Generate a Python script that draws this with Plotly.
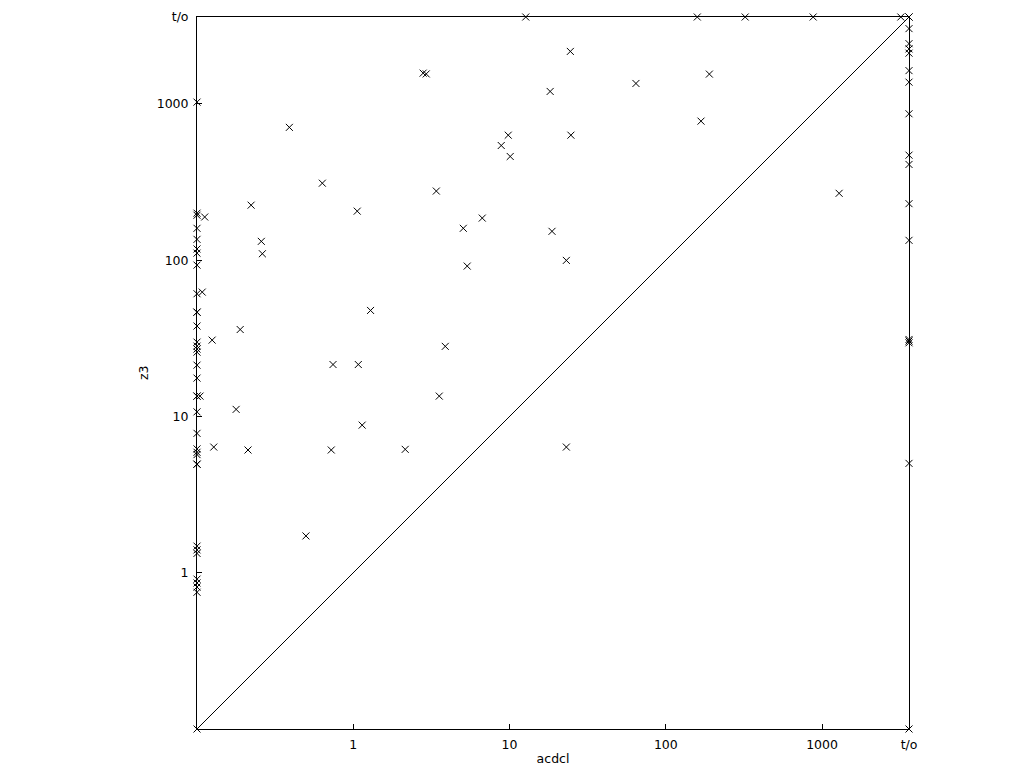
import math
import plotly.graph_objects as go

TIMEOUT = 3600.0
LOW = 0.1

# acdcl runtime (x) and z3 runtime (y); timeouts are plotted at TIMEOUT ("t/o")
acdcl = [
    # acdcl at lower bound
    0.1, 0.1, 0.1, 0.1, 0.1, 0.1, 0.1, 0.1, 0.1, 0.1, 0.1, 0.1,
    0.1, 0.1, 0.1, 0.1, 0.1, 0.1, 0.1, 0.1, 0.1, 0.1, 0.1, 0.1,
    0.1, 0.1, 0.1, 0.1, 0.1, 0.1, 0.1, 0.1, 0.1, 0.1, 0.1,
    # interior
    0.112, 0.108, 0.125, 0.1045, 0.128, 0.178, 0.189, 0.212, 0.222, 0.258,
    0.262, 0.39, 0.498, 0.634, 0.723, 0.742, 1.06, 1.077, 1.14, 1.29,
    2.15, 2.80, 2.93, 3.40, 3.55, 3.88, 5.06, 5.36, 6.69, 8.85,
    9.81, 10.1, 12.7, 18.2, 18.7, 23.1, 23.1, 24.5, 24.7, 64.4,
    159, 168, 190, 322, 877, 1286, 3192,
    # acdcl timeouts
    3600, 3600, 3600, 3600, 3600, 3600, 3600, 3600, 3600, 3600,
    3600, 3600, 3600, 3600, 3600, 3600, 3600, 3600,
]
z3 = [
    1027, 200, 194, 160, 136, 118, 111, 93, 61, 46.5, 46.5, 37.9,
    29.9, 28.2, 27, 25.8, 21.3, 17.6, 13.5, 13.5, 10.7, 7.8, 6.2, 5.9,
    5.7, 4.95, 4.95, 1.48, 1.40, 1.33, 0.91, 0.86, 0.81, 0.75, 0.1,
    189, 62.5, 30.8, 13.5, 6.37, 11.1, 36, 6.1, 225, 132,
    110, 708, 1.72, 311, 6.1, 21.5, 206, 21.5, 8.8, 47.7,
    6.16, 1574, 1556, 277, 13.5, 28.1, 160, 91.7, 186, 542,
    631, 461, 3600, 1202, 153, 99.7, 6.37, 2168, 631, 1352,
    3600, 776, 1552, 3600, 3600, 268, 3600,
    3600, 3600, 3034, 2431, 2249, 2113, 1634, 1378, 865, 470,
    410, 230, 134, 31.1, 30.4, 29.6, 5.01, 0.1,
]

tick_vals = [1, 10, 100, 1000, TIMEOUT]
tick_text = ["1", "10", "100", "1000", "t/o"]

FONT = "DejaVu Sans"
FS = 12.5

fig = go.Figure()
fig.add_trace(go.Scatter(
    x=[LOW, TIMEOUT], y=[LOW, TIMEOUT], mode="lines",
    line=dict(color="black", width=1), hoverinfo="skip", showlegend=False,
    cliponaxis=False,
))
fig.add_trace(go.Scatter(
    x=acdcl, y=z3, mode="markers",
    marker=dict(symbol="x-thin", size=7, color="black",
                line=dict(color="black", width=1)),
    showlegend=False, cliponaxis=False,
))

rng = [math.log10(LOW), math.log10(TIMEOUT)]
axis_common = dict(
    type="log", range=rng, tickvals=tick_vals, ticktext=tick_text,
    ticks="inside", ticklen=5, tickcolor="black", tickwidth=1,
    showline=True, linecolor="black", linewidth=1, mirror=True,
    showgrid=False, zeroline=False,
    tickfont=dict(family=FONT, size=FS, color="black"),
    title_font=dict(family=FONT, size=FS, color="black"),
)
fig.update_xaxes(**axis_common, title_text="acdcl", title_standoff=3,
                 ticklabelstandoff=4)
fig.update_yaxes(**axis_common, ticklabelstandoff=5)

fig.add_annotation(
    text="z3", xref="paper", yref="paper", x=0, y=0.5,
    xanchor="center", yanchor="middle", xshift=-54, textangle=-90,
    showarrow=False, font=dict(family=FONT, size=FS, color="black"),
)

# page body has an 8px margin: size/margins chosen so the plot box lands
# at 197..909 x 16..728 in the 1024x768 window
fig.update_layout(
    width=1016, height=760,
    margin=dict(l=189, r=115, t=9, b=39, autoexpand=False),
    paper_bgcolor="white", plot_bgcolor="white",
    font=dict(family=FONT, size=FS, color="black"),
)

fig.write_html("out.html")
